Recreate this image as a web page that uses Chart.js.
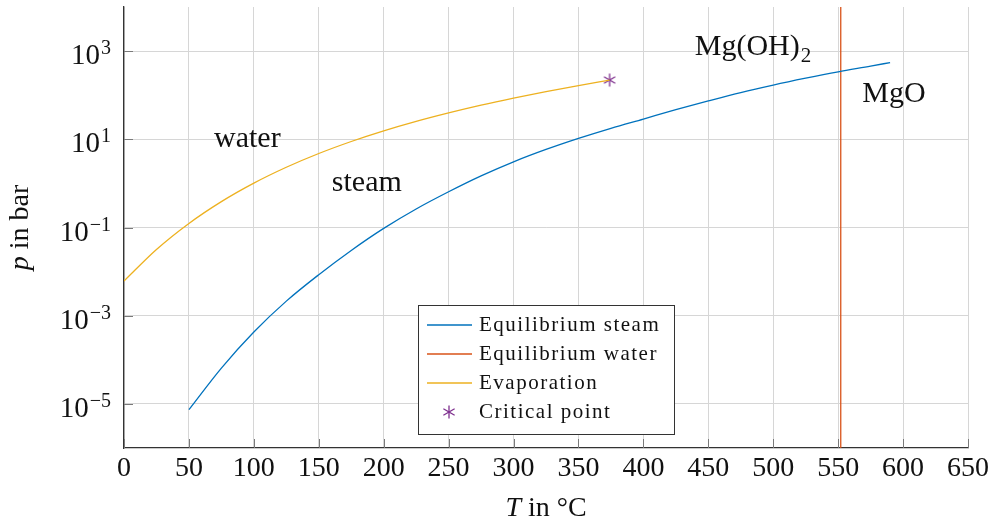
<!DOCTYPE html>
<html>
<head>
<meta charset="utf-8">
<script src="https://cdn.jsdelivr.net/npm/chart.js@4/dist/chart.umd.min.js"></script>
<style>
  html, body { margin: 0; padding: 0; background: #fff; }
  canvas { display: block; }
</style>
</head>
<body>
<canvas id="myChart" width="995" height="523"></canvas>
<script>
// Mg(OH)2 <-> MgO + H2O equilibrium vs. water vapour pressure
const steamT = [50, 75, 100, 125, 150, 175, 200, 225, 250, 275, 300, 325, 350, 375, 400, 425, 450, 475, 500, 525, 550, 575, 590];
const steamP = [7.4e-6, 6.5e-5, 4.27e-4, 2.14e-3, 8.5e-3, 0.0302, 0.0955, 0.263, 0.646, 1.48, 3.09, 5.89, 10.5, 17.8, 28.8, 46.8, 74.1, 115, 170, 243, 339, 457, 550];

const waterT = [552, 552];
const waterP = [1e-6, 1e4];

const evapT = [0, 25, 50, 75, 100, 125, 150, 175, 200, 225, 250, 275, 300, 325, 350, 374];
const evapP = [0.00611, 0.0317, 0.1235, 0.386, 1.014, 2.32, 4.76, 8.92, 15.55, 25.5, 39.7, 59.5, 85.9, 120.6, 165.3, 220.6];

const critT = [374];
const critP = [220.6];

const xTicks = [0, 50, 100, 150, 200, 250, 300, 350, 400, 450, 500, 550, 600, 650];
const yExponents = [-5, -3, -1, 1, 3];

const regionNames = ['water', 'steam', 'Mg(OH)', 'MgO'];
const regionT = [95, 187, 480, 593];
const regionP = [10, 1, 1200, 107];

const SERIF = '"Liberation Serif", "DejaVu Serif", serif';

function pts(xs, ys) {
  return xs.map((x, i) => ({ x: x, y: ys[i] }));
}

// six-armed asterisk marker
const asterisk = document.createElement('canvas');
asterisk.width = 16;
asterisk.height = 16;
(function () {
  const c = asterisk.getContext('2d');
  c.strokeStyle = '#7E2F8E';
  c.lineWidth = 1.3;
  const r = 6.5;
  [90, 30, 150].forEach(a => {
    const rad = a * Math.PI / 180;
    c.beginPath();
    c.moveTo(8 - r * Math.cos(rad), 8 - r * Math.sin(rad));
    c.lineTo(8 + r * Math.cos(rad), 8 + r * Math.sin(rad));
    c.stroke();
  });
})();

const extras = {
  id: 'extras',
  afterDraw(chart) {
    const ctx = chart.ctx;
    const area = chart.chartArea;
    const xs = chart.scales.x;
    const ys = chart.scales.y;
    ctx.save();

    // inward tick marks
    ctx.strokeStyle = '#7a7a7a';
    ctx.lineWidth = 1;
    xTicks.forEach(v => {
      const px = Math.round(xs.getPixelForValue(v)) + 0.5;
      ctx.beginPath();
      ctx.moveTo(px, area.bottom);
      ctx.lineTo(px, area.bottom - 9);
      ctx.stroke();
    });
    yExponents.forEach(e => {
      const py = Math.round(ys.getPixelForValue(Math.pow(10, e))) + 0.5;
      ctx.beginPath();
      ctx.moveTo(area.left, py);
      ctx.lineTo(area.left + 9, py);
      ctx.stroke();
    });

    // y tick labels 10^n
    ctx.fillStyle = '#111';
    ctx.textBaseline = 'alphabetic';
    yExponents.forEach(e => {
      const py = ys.getPixelForValue(Math.pow(10, e));
      const exp = e < 0 ? '\u2212' + (-e) : String(e);
      ctx.font = '20px ' + SERIF;
      const ew = ctx.measureText(exp).width;
      const right = area.left - 13;
      ctx.textAlign = 'right';
      ctx.fillText(exp, right, py + 3);
      ctx.font = '29px ' + SERIF;
      ctx.fillText('10', right - ew - 1, py + 13);
    });

    // axis titles
    ctx.font = 'italic 28px ' + SERIF;
    const tW = ctx.measureText('T').width;
    ctx.font = '28px ' + SERIF;
    const restX = ' in \u00B0C';
    const rW = ctx.measureText(restX).width;
    const cx = (area.left + area.right) / 2;
    let x0 = cx - (tW + rW) / 2;
    ctx.textAlign = 'left';
    ctx.font = 'italic 28px ' + SERIF;
    ctx.fillText('T', x0, 516);
    ctx.font = '28px ' + SERIF;
    ctx.fillText(restX, x0 + tW, 516);

    ctx.save();
    ctx.translate(28, (area.top + area.bottom) / 2);
    ctx.rotate(-Math.PI / 2);
    ctx.font = 'italic 28px ' + SERIF;
    const pW = ctx.measureText('p').width;
    ctx.font = '28px ' + SERIF;
    const restY = ' in bar';
    const bW = ctx.measureText(restY).width;
    x0 = -(pW + bW) / 2;
    ctx.font = 'italic 28px ' + SERIF;
    ctx.fillText('p', x0, 0);
    ctx.font = '28px ' + SERIF;
    ctx.fillText(restY, x0 + pW, 0);
    ctx.restore();

    // region names
    ctx.textAlign = 'center';
    ctx.textBaseline = 'middle';
    regionNames.forEach((name, i) => {
      const px = xs.getPixelForValue(regionT[i]);
      const py = ys.getPixelForValue(regionP[i]);
      ctx.font = '30px ' + SERIF;
      ctx.fillText(name, px, py);
      if (name === 'Mg(OH)') {
        const w = ctx.measureText(name).width;
        ctx.font = '21px ' + SERIF;
        ctx.textAlign = 'left';
        ctx.fillText('2', px + w / 2 + 1, py + 9);
        ctx.textAlign = 'center';
      }
    });

    // legend box
    const lx = 418, ly = 305, lw = 256, lh = 129;
    ctx.fillStyle = '#fff';
    ctx.fillRect(lx, ly, lw, lh);
    ctx.strokeStyle = '#333';
    ctx.lineWidth = 1;
    ctx.strokeRect(lx + 0.5, ly + 0.5, lw, lh);
    ctx.font = '21px ' + SERIF;
    ctx.letterSpacing = '1.5px';
    ctx.textAlign = 'left';
    ctx.textBaseline = 'middle';
    chart.data.datasets.forEach((ds, i) => {
      const y = ly + 20 + i * 29;
      if (ds.showLine === false) {
        ctx.drawImage(asterisk, 449 - 8, y - 8);
      } else {
        ctx.strokeStyle = ds.borderColor;
        ctx.lineWidth = 1.4;
        ctx.beginPath();
        ctx.moveTo(427, y);
        ctx.lineTo(472, y);
        ctx.stroke();
      }
      ctx.fillStyle = '#111';
      ctx.fillText(ds.label, 479, y);
    });
    ctx.letterSpacing = '0px';
    ctx.restore();
  }
};

const ctx1 = document.getElementById('myChart').getContext('2d');
const myChart = new Chart(ctx1, {
  type: 'line',
  data: {
    datasets: [{
      label: 'Equilibrium steam',
      data: pts(steamT, steamP),
      borderColor: '#0072BD',
      borderWidth: 1.3,
      pointRadius: 0,
      cubicInterpolationMode: 'monotone'
    }, {
      label: 'Equilibrium water',
      data: pts(waterT, waterP),
      borderColor: '#D95319',
      borderWidth: 1.3,
      pointRadius: 0
    }, {
      label: 'Evaporation',
      data: pts(evapT, evapP),
      borderColor: '#EDB120',
      borderWidth: 1.3,
      pointRadius: 0,
      cubicInterpolationMode: 'monotone'
    }, {
      label: 'Critical point',
      data: pts(critT, critP),
      borderColor: '#7E2F8E',
      showLine: false,
      pointStyle: asterisk,
      pointRadius: 6
    }]
  },
  options: {
    responsive: false,
    animation: false,
    devicePixelRatio: 1,
    layout: { padding: { top: 4, right: 27, left: 0, bottom: 0 } },
    plugins: {
      legend: { display: false },
      tooltip: { enabled: false }
    },
    scales: {
      x: {
        type: 'linear',
        min: 0,
        max: 650,
        afterBuildTicks: s => { s.ticks = xTicks.map(v => ({ value: v })); },
        afterFit: s => { s.height = 75; },
        ticks: {
          font: { family: SERIF, size: 28 },
          color: '#111',
          padding: 4,
          maxRotation: 0
        },
        grid: { color: '#d6d6d6', lineWidth: 1, drawTicks: false },
        border: { color: '#333', width: 1.3 }
      },
      y: {
        type: 'logarithmic',
        min: 1e-6,
        max: 1e4,
        afterBuildTicks: s => { s.ticks = yExponents.map(e => ({ value: Math.pow(10, e) })); },
        afterFit: s => { s.width = 124; },
        ticks: { display: false },
        grid: { color: '#d6d6d6', lineWidth: 1, drawTicks: false },
        border: { color: '#333', width: 1.3 }
      }
    }
  },
  plugins: [extras]
});
</script>
</body>
</html>
